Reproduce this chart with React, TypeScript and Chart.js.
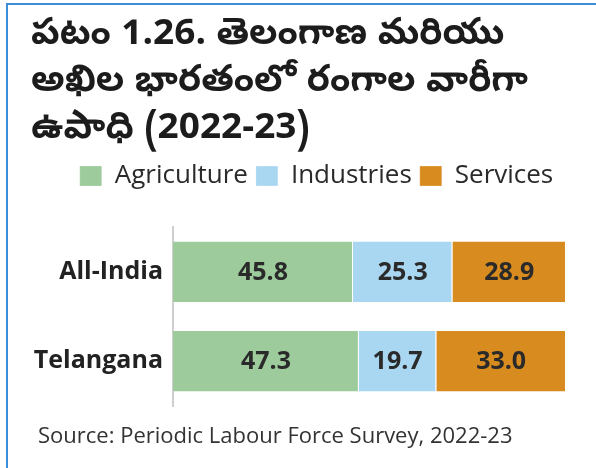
import React, { useEffect, useRef } from "react";
import { Chart, registerables } from "chart.js";

Chart.register(...registerables);

const titleLines = ["పటం 1.26. తెలంగాణ మరియు", "అఖిల భారతంలో రంగాల వారీగా", "ఉపాధి (2022-23)"];
const sourceText = "Source: Periodic Labour Force Survey, 2022-23";
const categories = ["All-India", "Telangana"];
const seriesNames = ["Agriculture", "Industries", "Services"];
const agriculture = [45.8, 47.3];
const industries = [25.3, 19.7];
const services = [28.9, 33.0];
const seriesColors = ["#9DCB9C", "#A9D6F1", "#D88B1E"];

const FONT = "'Open Sans', 'Noto Sans', sans-serif";

const valueLabels = {
  id: "valueLabels",
  afterDatasetsDraw(chart: any) {
    const ctx = chart.ctx;
    ctx.save();
    ctx.font = `bold 25px ${FONT}`;
    ctx.fillStyle = "#2a2a2a";
    ctx.textAlign = "center";
    ctx.textBaseline = "middle";
    chart.data.datasets.forEach((ds: any, i: number) => {
      const meta = chart.getDatasetMeta(i);
      meta.data.forEach((el: any, j: number) => {
        const p = el.getCenterPoint();
        ctx.fillText(Number(ds.data[j]).toFixed(1), p.x, p.y + 1);
      });
    });
    ctx.restore();
  },
};

const legendSpace = {
  id: "legendSpace",
  beforeInit(chart: any) {
    const orig = chart.legend.fit;
    chart.legend.fit = function () {
      orig.bind(chart.legend)();
      this.height += 28;
    };
  },
  afterLayout(chart: any) {
    // shift the centred legend so that it sits where the reference has it
    chart.legend.left = 67;
  },
};

export default function App() {
  const ref = useRef<HTMLCanvasElement>(null);
  useEffect(() => {
    if (!ref.current) return;
    const values = [agriculture, industries, services];
    const chart = new Chart(ref.current, {
      type: "bar",
      data: {
        labels: categories,
        datasets: seriesNames.map((name, i) => ({
          label: name,
          data: values[i],
          backgroundColor: seriesColors[i],
          borderColor: "#ffffff",
          borderWidth: { top: 0, bottom: 0, left: 0, right: 1 },
          borderSkipped: false,
          barPercentage: 0.674,
          categoryPercentage: 1,
        })),
      },
      options: {
        indexAxis: "y",
        responsive: false,
        animation: false,
        layout: { padding: { left: 20, right: 30, top: 0, bottom: 6 } },
        plugins: {
          legend: {
            position: "top",
            align: "center",
            labels: {
              boxWidth: 22,
              boxHeight: 20,
              padding: 8,
              color: "#2a2a2a",
              font: { family: FONT, size: 26 },
            },
          },
          tooltip: { enabled: false },
          title: { display: false },
        },
        scales: {
          x: { stacked: true, min: 0, max: 100, display: false },
          y: {
            stacked: true,
            grid: { display: false, drawTicks: false },
            border: { display: true, color: "#cfcfcf", width: 2 },
            ticks: {
              color: "#222",
              padding: 10,
              font: { family: FONT, size: 25, weight: "bold" },
            },
            afterFit(scale: any) {
              scale.width = 153;
            },
          },
        },
      },
      plugins: [valueLabels, legendSpace],
    });
    return () => chart.destroy();
  }, []);

  return (
    <div>
      <div
        style={{
          position: "fixed",
          left: 6,
          top: 3,
          width: 600,
          height: 480,
          borderLeft: "2px solid #3d8dd8",
          borderTop: "2px solid #3d8dd8",
          boxSizing: "border-box",
        }}
      />
      <div
        style={{
          position: "fixed",
          left: 31,
          top: 14,
          fontFamily: "'Noto Sans Telugu', 'Noto Sans', sans-serif",
          fontWeight: "bold",
          fontSize: 37,
          lineHeight: "47px",
          color: "#1c1c1c",
          whiteSpace: "nowrap",
        }}
      >
        {titleLines.map((l, i) => (
          <div key={i}>{l}</div>
        ))}
      </div>
      <canvas
        ref={ref}
        width={596}
        height={276}
        style={{ position: "fixed", left: 0, top: 155, width: 596, height: 276 }}
      />
      <div
        style={{
          position: "fixed",
          left: 38,
          top: 419,
          fontFamily: FONT,
          fontSize: 22,
          color: "#333",
          whiteSpace: "nowrap",
        }}
      >
        {sourceText}
      </div>
    </div>
  );
}
